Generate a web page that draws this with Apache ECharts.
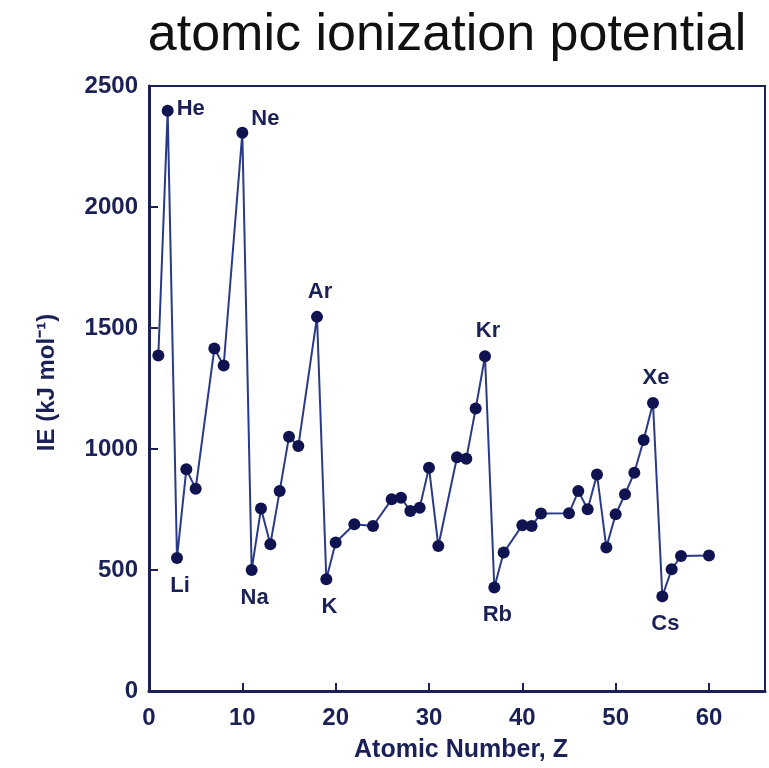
<!DOCTYPE html>
<html>
<head>
<meta charset="utf-8">
<script src="https://cdn.jsdelivr.net/npm/echarts@6/dist/echarts.min.js"></script>
<style>
  html, body { margin: 0; padding: 0; background: #ffffff; }
  #chart { width: 769px; height: 768px; }
</style>
</head>
<body>
<div id="chart"></div>
<script>
// First ionization energy versus atomic number
const atomicNumber = [1, 2, 3, 4, 5, 7, 8, 10, 11, 12, 13, 14, 15, 16, 18, 19, 20, 22, 24, 26, 27, 28, 29, 30,
  31, 33, 34, 35, 36, 37, 38, 40, 41, 42, 45, 46, 47, 48, 49, 50, 51, 52, 53, 54, 55, 56, 57, 60];
const ionizationEnergy = [1386, 2398, 550, 916, 836, 1415, 1345, 2307, 500, 754, 606, 826, 1051, 1012, 1546, 462, 614,
  689, 682, 792, 799, 744, 757, 923, 599, 966, 960, 1167, 1383, 428, 572, 685, 682, 733, 734, 826, 751, 895,
  593, 730, 813, 902, 1037, 1190, 391, 503, 558, 560];
const elementLabels = ['', 'He', 'Li', '', '', '', '', 'Ne', 'Na', '', '', '', '', '', 'Ar', 'K', '', '', '', '', '', '', '', '',
  '', '', '', '', 'Kr', 'Rb', '', '', '', '', '', '', '', '', '', '', '', '', '', 'Xe', 'Cs', '', '', ''];
const xTicks = [10, 20, 30, 40, 50, 60];
const xTickLabels = [0, 10, 20, 30, 40, 50, 60];
const yTicks = [500, 1000, 1500, 2000];

const ink = '#1b2157';
const lineInk = '#2b3a86';
const font = 'Liberation Sans, Arial, Helvetica, sans-serif';

// Noble gases sit above their peaks, alkali metals below their dips
const noble = { He: 'right', Ne: 'right', Ar: 'top', Kr: 'top', Xe: 'top' };

const points = atomicNumber.map((z, i) => {
  const sym = elementLabels[i];
  const item = { value: [z, ionizationEnergy[i]], name: sym };
  if (sym) {
    const pos = noble[sym] || 'bottom';
    item.label = {
      show: true,
      position: pos,
      distance: pos === 'right' ? 3 : (pos === 'bottom' ? 11 : 8),
      offset: sym === 'Ne' ? [0, -14] : (sym === 'He' ? [0, -2] : [3, 0]),
      formatter: sym
    };
  }
  return item;
});

const chart = echarts.init(document.getElementById('chart'));
chart.setOption({
  animation: false,
  title: {
    text: 'atomic ionization potential',
    left: 442,
    top: 5,
    textAlign: 'center',
    textStyle: { fontFamily: font, fontSize: 52, fontWeight: 'normal', color: '#111111' }
  },
  grid: {
    left: 149, top: 86, right: 4, bottom: 76,
    show: true, borderColor: ink, borderWidth: 2, backgroundColor: 'transparent'
  },
  xAxis: {
    type: 'value', min: 0, max: 66,
    name: 'Atomic Number, Z', nameLocation: 'middle', nameGap: 47,
    nameTextStyle: { fontFamily: font, fontSize: 25, fontWeight: 'bold', color: ink, padding: [0, 0, 0, 8] },
    axisLine: { show: true, lineStyle: { color: ink, width: 3 } },
    axisTick: { show: true, inside: true, length: 8, customValues: xTicks, lineStyle: { color: ink, width: 2 } },
    axisLabel: { customValues: xTickLabels, margin: 15, fontFamily: font, fontSize: 24, fontWeight: 'bold', color: ink },
    splitLine: { show: false }
  },
  yAxis: {
    type: 'value', min: 0, max: 2500, interval: 500,
    name: 'IE (kJ mol\u207B\u00B9)', nameLocation: 'middle', nameGap: 90,
    nameTextStyle: { fontFamily: font, fontSize: 24, fontWeight: 'bold', color: ink, padding: [0, 0, 0, 12] },
    axisLine: { show: true, lineStyle: { color: ink, width: 3 } },
    axisTick: { show: true, inside: true, length: 9, customValues: yTicks, lineStyle: { color: ink, width: 2 } },
    axisLabel: { margin: 11, formatter: (v) => String(v), fontFamily: font, fontSize: 24, fontWeight: 'bold', color: ink },
    splitLine: { show: false }
  },
  series: [{
    type: 'line',
    data: points,
    symbol: 'circle',
    symbolSize: 12,
    lineStyle: { color: lineInk, width: 2 },
    itemStyle: { color: '#0f1450' },
    label: { show: false, fontFamily: font, fontSize: 22, fontWeight: 'bold', color: ink }
  }]
});
</script>
</body>
</html>
